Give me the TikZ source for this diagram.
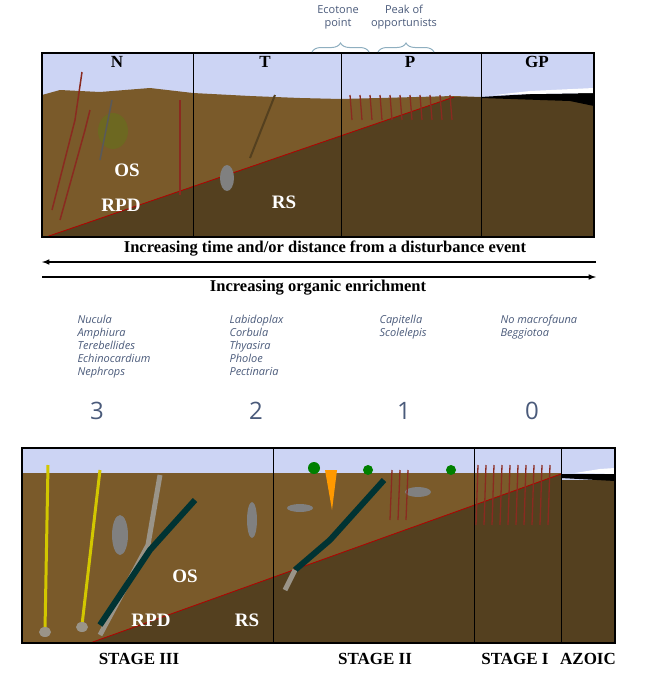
\documentclass[tikz,border=0pt]{standalone}
\usepackage{fontspec}
\setmainfont{Liberation Serif}
\newfontfamily\osans{Open Sans}
\usetikzlibrary{decorations.pathreplacing}
\definecolor{sky}{HTML}{CCD4F4}
\definecolor{oxsed}{HTML}{7A5A2A}
\definecolor{redsed}{HTML}{54401F}
\definecolor{slate}{HTML}{4A5A7A}
\definecolor{brace}{HTML}{8FAFC0}
\definecolor{worm}{HTML}{8A2A20}
\definecolor{tubeg}{HTML}{9A9488}
\begin{document}
\begin{tikzpicture}[x=1pt,y=-1pt,
  lbl/.style={font=\bfseries\fontsize{17}{17}\selectfont},
  wlbl/.style={font=\bfseries\fontsize{19}{19}\selectfont,text=white},
  spec/.style={font=\osans\itshape\fontsize{11}{13}\selectfont,text=slate,align=left,anchor=north west},
  num/.style={font=\osans\fontsize{24}{24}\selectfont,text=slate},
  frame/.style={draw=black,line width=1.2pt},
  wormline/.style={draw=worm,line width=1.3pt},
  arr/.style={line width=1.5pt,-latex}]
\useasboundingbox (0,0) rectangle (647,691);
% ---------- top panel ----------
\fill[sky] (42,53) rectangle (594,237);
\fill[oxsed] (42,237) -- (42,95) -- (60,90) -- (100,92) -- (150,88) -- (193,93) -- (250,96) -- (300,98) -- (341,99) -- (454,96) -- (481,97) -- (481,237) -- cycle;
\fill[redsed] (46,237) -- (454,97) -- (481,97) -- (481,237) -- cycle;
\fill[redsed] (481,237) -- (481,97) -- (594,101) -- (594,237) -- cycle;
\fill[black] (481,97) -- (530,94) -- (594,93) -- (594,106) -- (570,101) -- (481,98) -- cycle;
\fill[white] (495,95) -- (530,91) -- (594,88) -- (594,93) -- (530,94) -- cycle;
\draw[red!70!black,line width=0.8pt] (46,237) -- (454,97);
% organisms (simplified)
\fill[olive!70!black] (113,131) ellipse (15 and 18);
\draw[worm,line width=1.5pt] (52,210) -- (75,120) -- (82,72);
\draw[worm,line width=1.5pt] (60,220) -- (85,130) -- (90,110);
\draw[worm,line width=1.5pt] (180,195) -- (180,100);
\draw[gray!70!black,line width=1.5pt] (100,160) -- (112,100);
\fill[gray] (227,178) ellipse (7 and 13);
\draw[redsed,line width=2pt] (250,158) -- (275,95);
\foreach \x in {350,360,...,450}{\draw[wormline] (\x,95) -- (\x+2,120);}
\foreach \x in {193,341,481}{\draw[line width=1pt] (\x,53) -- (\x,237);}
\draw[frame] (42,53) rectangle (594,237);
\node[lbl] (lN) at (117,62) {N};
\node[lbl] (lT) at (265,62) {T};
\node[lbl] (lP) at (410,62) {P};
\node[lbl] (lGP) at (537,62) {GP};
\node[wlbl] (os1) at (127,170) {OS};
\node[wlbl] (rpd1) at (121,205) {RPD};
\node[wlbl] (rs1) at (284,202) {RS};
% braces
\draw[brace,line width=1pt,decorate,decoration={brace,amplitude=9pt}] (312,52) -- (369,52);
\draw[brace,line width=1pt,decorate,decoration={brace,amplitude=9pt}] (378,52) -- (434,52);
\node[font=\osans\fontsize{11}{13}\selectfont,text=slate,align=center] (eco) at (338,17) {Ecotone\\point};
\node[font=\osans\fontsize{11}{13}\selectfont,text=slate,align=center] (peak) at (404,17) {Peak of\\opportunists};
% arrows
\node[font=\bfseries\fontsize{16.5}{17}\selectfont] (t1) at (325,249) {Increasing time and/or distance from a disturbance event};
\coordinate (a1r) at (596,262); \coordinate (a1l) at (42,262);
\draw[arr] (a1r) -- (a1l);
\coordinate (a2l) at (42,277); \coordinate (a2r) at (596,277);
\draw[arr] (a2l) -- (a2r);
\node[font=\bfseries\fontsize{16.5}{17}\selectfont] (t2) at (318,288) {Increasing organic enrichment};
% species
\node[spec] (s3) at (74,312) {Nucula\\Amphiura\\Terebellides\\Echinocardium\\Nephrops};
\node[spec] (s2) at (226,312) {Labidoplax\\Corbula\\Thyasira\\Pholoe\\Pectinaria};
\node[spec] (s1) at (376,312) {Capitella\\Scolelepis};
\node[spec] (s0) at (497,312) {No macrofauna\\Beggiotoa};
\node[num] (n3) at (97,411) {3};
\node[num] (n2) at (256,411) {2};
\node[num] (n1) at (404,411) {1};
\node[num] (n0) at (532,411) {0};
% ---------- bottom panel ----------
\fill[sky] (22,448) rectangle (615,643);
\fill[oxsed] (22,473) -- (561,473) -- (561,643) -- (22,643) -- cycle;
\fill[redsed] (90,643) -- (561,474) -- (561,643) -- cycle;
\fill[redsed] (561,480) rectangle (615,643);
\fill[black] (561,474) -- (615,474) -- (615,481) -- (561,478) -- cycle;
\fill[white] (575,473) -- (600,469) -- (615,468) -- (615,474) -- cycle;
\draw[red!70!black,line width=0.8pt] (90,643) -- (561,474);
% organisms (simplified)
\draw[yellow!60!olive,line width=3pt] (48,465) -- (45,630);
\draw[yellow!60!olive,line width=3pt] (100,470) -- (82,625);
\fill[tubeg] (45,632) ellipse (6 and 5); \fill[tubeg] (82,627) ellipse (6 and 5);
\draw[tubeg,line width=5pt] (160,475) -- (148,545) -- (100,635);
\draw[teal!40!black,line width=6pt] (195,500) -- (150,550) -- (100,625);
\fill[gray] (120,535) ellipse (8 and 20);
\fill[gray] (252,520) ellipse (5 and 18);
\draw[teal!40!black,line width=6pt] (384,480) -- (330,540) -- (295,570);
\draw[tubeg,line width=5pt] (295,570) -- (285,590);
\fill[orange!80!yellow] (325,470) -- (337,470) -- (332,510) -- cycle;
\fill[green!50!black] (314,468) circle (6); \fill[green!50!black] (368,470) circle (5); \fill[green!50!black] (451,470) circle (5);
\fill[gray] (300,508) ellipse (13 and 4); \fill[gray] (418,492) ellipse (13 and 5);
\foreach \x in {392,400,408}{\draw[wormline] (\x,470) -- (\x-2,520);}
\foreach \x in {478,486,...,552}{\draw[wormline] (\x,465) -- (\x-2,525);}
\foreach \x in {273,474,561}{\draw[line width=1pt] (\x,448) -- (\x,643);}
\draw[frame] (22,448) rectangle (615,643);
\node[wlbl] (os2) at (185,576) {OS};
\node[wlbl] (rpd2) at (151,620) {RPD};
\node[wlbl] (rs2) at (247,620) {RS};
\node[lbl] (st3) at (139,659) {STAGE III};
\node[lbl] (st2) at (375,659) {STAGE II};
\node[lbl] (st1) at (515,659) {STAGE I};
\node[lbl] (az) at (588,659) {AZOIC};
\end{tikzpicture}
\end{document}
